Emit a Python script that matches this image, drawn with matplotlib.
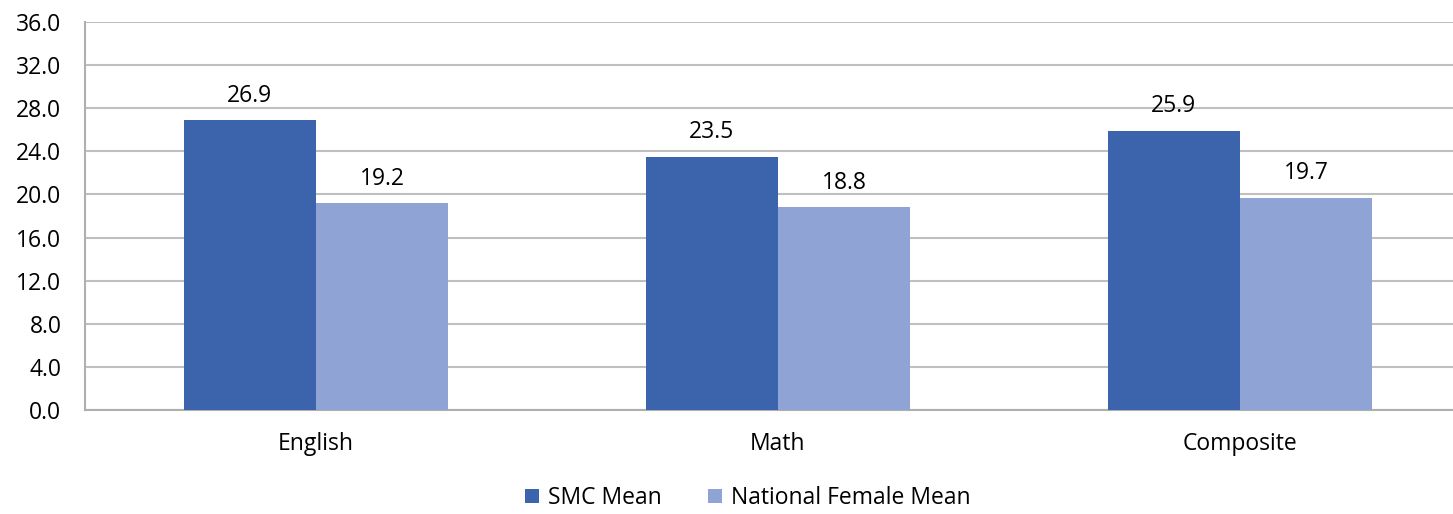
import matplotlib
matplotlib.use("Agg")
import matplotlib.pyplot as plt
import numpy as np

categories = ["English", "Math", "Composite"]
smc_mean = [26.9, 23.5, 25.9]
national_female_mean = [19.2, 18.8, 19.7]
series_names = ["SMC Mean", "National Female Mean"]
yticks = [0, 4, 8, 12, 16, 20, 24, 28, 32, 36]

plt.rcParams['font.family'] = ['Open Sans', 'DejaVu Sans']
FS = 16.5

fig = plt.figure(figsize=(14.53, 5.14), dpi=100)
ax = fig.add_axes([85/1453, 104/514, 1386/1453, 388/514])

x = np.arange(len(categories))
w = 0.286
dark = "#3B64AD"
light = "#8FA3D4"
b1 = ax.bar(x - w/2, smc_mean, w, color=dark, label=series_names[0], zorder=3)
b2 = ax.bar(x + w/2, national_female_mean, w, color=light, label=series_names[1], zorder=3)

for bars, vals in ((b1, smc_mean), (b2, national_female_mean)):
    for r, v in zip(bars, vals):
        ax.annotate(f"{v:.1f}", (r.get_x() + r.get_width()/2, v),
                    xytext=(0, 9), textcoords="offset points",
                    ha="center", va="bottom", fontsize=FS, color="#000000")

ax.set_xlim(-0.5, 2.5)
ax.set_ylim(0, 36)
ax.set_yticks(yticks)
ax.set_yticklabels([f"{t:.1f}" for t in yticks], fontsize=FS)
ax.set_xticks(x)
ax.set_xticklabels(categories, fontsize=FS)
ax.tick_params(axis='both', length=0)
ax.tick_params(axis='y', pad=17)
ax.tick_params(axis='x', pad=16)
ax.grid(axis='y', color="#BFBFBF", linewidth=1.5, zorder=0)
for s in ("top", "right"):
    ax.spines[s].set_visible(False)
for s in ("left", "bottom"):
    ax.spines[s].set_color("#AFAFAF")
    ax.spines[s].set_linewidth(1.5)

fig.legend(handles=[b1, b2], labels=series_names, loc="center",
           bbox_to_anchor=(748/1453, 1 - 498/514), ncol=2, frameon=False,
           fontsize=FS, handlelength=0.6, handleheight=0.6, handletextpad=0.4,
           columnspacing=2.0)

fig.savefig("out.png", dpi=100)
